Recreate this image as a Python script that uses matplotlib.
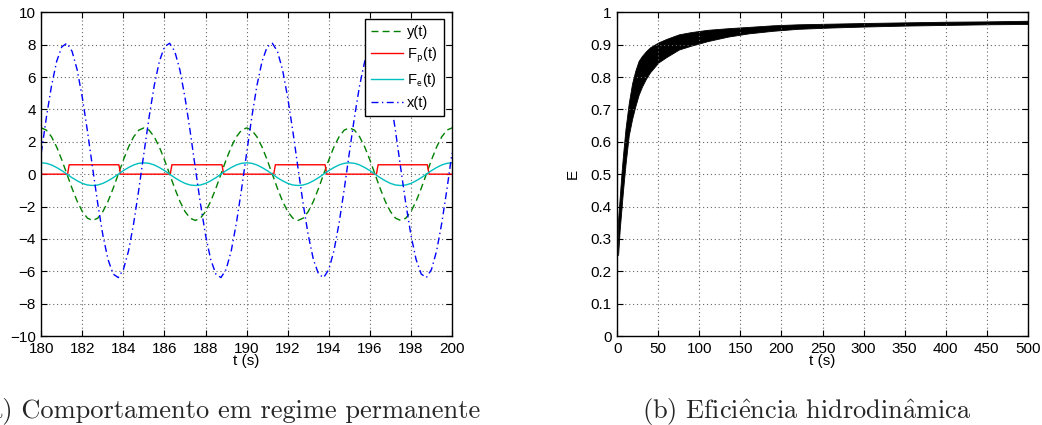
import numpy as np
import matplotlib.pyplot as plt
from matplotlib.ticker import FormatStrFormatter

plt.rcParams['font.family'] = ['Liberation Sans', 'DejaVu Sans']
plt.rcParams['mathtext.fontset'] = 'cm'

# (a) regime permanente, amostras a cada 0.25 s entre 180 e 200 s
t_ss = np.arange(180, 200.001, 0.25)

x_vals = [1.31, 3.52, 5.47, 6.97, 7.87, 8.09, 7.59, 6.44, 4.73, 2.65,
          0.39, -1.82, -3.77, -5.27, -6.17, -6.39, -5.89, -4.74, -3.03, -0.95,
          1.31, 3.52, 5.47, 6.97, 7.87, 8.09, 7.59, 6.44, 4.73, 2.65,
          0.39, -1.82, -3.77, -5.27, -6.17, -6.39, -5.89, -4.74, -3.03, -0.95,
          1.31, 3.52, 5.47, 6.97, 7.87, 8.09, 7.59, 6.44, 4.73, 2.65,
          0.39, -1.82, -3.77, -5.27, -6.17, -6.39, -5.89, -4.74, -3.03, -0.95,
          1.31, 3.52, 5.47, 6.97, 7.87, 8.09, 7.59, 6.44, 4.73, 2.65,
          0.39, -1.82, -3.77, -5.27, -6.17, -6.39, -5.89, -4.74, -3.03, -0.95,
          1.31]

y_vals = [2.86, 2.72, 2.31, 1.68, 0.88, 0.00, -0.88, -1.68, -2.31, -2.72,
          -2.86, -2.72, -2.31, -1.68, -0.88, 0.00, 0.88, 1.68, 2.31, 2.72,
          2.86, 2.72, 2.31, 1.68, 0.88, 0.00, -0.88, -1.68, -2.31, -2.72,
          -2.86, -2.72, -2.31, -1.68, -0.88, 0.00, 0.88, 1.68, 2.31, 2.72,
          2.86, 2.72, 2.31, 1.68, 0.88, 0.00, -0.88, -1.68, -2.31, -2.72,
          -2.86, -2.72, -2.31, -1.68, -0.88, 0.00, 0.88, 1.68, 2.31, 2.72,
          2.86, 2.72, 2.31, 1.68, 0.88, 0.00, -0.88, -1.68, -2.31, -2.72,
          -2.86, -2.72, -2.31, -1.68, -0.88, 0.00, 0.88, 1.68, 2.31, 2.72,
          2.86]

fe_vals = [0.70, 0.67, 0.57, 0.41, 0.22, 0.00, -0.22, -0.41, -0.57, -0.67,
           -0.70, -0.67, -0.57, -0.41, -0.22, 0.00, 0.22, 0.41, 0.57, 0.67,
           0.70, 0.67, 0.57, 0.41, 0.22, 0.00, -0.22, -0.41, -0.57, -0.67,
           -0.70, -0.67, -0.57, -0.41, -0.22, 0.00, 0.22, 0.41, 0.57, 0.67,
           0.70, 0.67, 0.57, 0.41, 0.22, 0.00, -0.22, -0.41, -0.57, -0.67,
           -0.70, -0.67, -0.57, -0.41, -0.22, 0.00, 0.22, 0.41, 0.57, 0.67,
           0.70, 0.67, 0.57, 0.41, 0.22, 0.00, -0.22, -0.41, -0.57, -0.67,
           -0.70, -0.67, -0.57, -0.41, -0.22, 0.00, 0.22, 0.41, 0.57, 0.67,
           0.70]

t_fp = [180, 181.28, 181.36, 183.78, 183.86, 186.28, 186.36, 188.80, 188.88,
        191.32, 191.40, 193.82, 193.90, 196.32, 196.40, 198.80, 198.88, 200]
fp_vals = [0, 0, 0.58, 0.58, 0, 0, 0.58, 0.58, 0, 0, 0.58, 0.58, 0, 0,
           0.58, 0.58, 0, 0]

# (b) eficiencia: envoltoria da oscilacao
t_E = [1, 3, 5, 7, 10, 14, 18, 22, 26, 30, 35, 40, 50, 60, 75, 90, 110,
       135, 160, 190, 220, 260, 300, 350, 400, 450, 500]
E_upper = [0.36, 0.43, 0.50, 0.56, 0.64, 0.72, 0.78, 0.82, 0.85, 0.865, 0.88,
           0.892, 0.907, 0.918, 0.932, 0.939, 0.946, 0.951, 0.955, 0.960,
           0.963, 0.965, 0.967, 0.969, 0.971, 0.972, 0.974]
E_lower = [0.25, 0.33, 0.39, 0.45, 0.53, 0.62, 0.67, 0.71, 0.745, 0.77, 0.795,
           0.815, 0.845, 0.862, 0.885, 0.897, 0.911, 0.925, 0.935, 0.943,
           0.949, 0.953, 0.956, 0.959, 0.961, 0.963, 0.964]


def matlab_style(ax):
    ax.tick_params(direction='in', top=True, right=True, length=4, width=0.8,
                   labelsize=11, pad=4)
    ax.grid(True, linestyle=(0, (1, 2.5)), color='0.4', linewidth=0.8)
    for s in ax.spines.values():
        s.set_linewidth(1.0)


fig = plt.figure(figsize=(10.42, 4.25), dpi=100)
ax1 = fig.add_axes([0.0396, 0.2094, 0.3942, 0.7616])
ax2 = fig.add_axes([0.5924, 0.2094, 0.3939, 0.7616])

ax1.plot(t_ss, y_vals, color=(0, 0.5, 0), lw=1.0, linestyle=(0, (5, 3)), label='y(t)')
ax1.plot(t_fp, fp_vals, color='red', lw=1.0, label=r'F$_{\mathsf{p}}$(t)')
ax1.plot(t_ss, fe_vals, color=(0, 0.75, 0.75), lw=1.0, label=r'F$_{\mathsf{e}}$(t)')
ax1.plot(t_ss, x_vals, color='blue', lw=1.0, linestyle=(0, (5, 2.5, 1, 2.5)), label='x(t)')
ax1.set_xlim(180, 200)
ax1.set_ylim(-10, 10)
ax1.set_xticks(np.arange(180, 201, 2))
ax1.set_yticks(np.arange(-10, 11, 2))
matlab_style(ax1)
ax1.set_xlabel('t (s)', fontsize=11, labelpad=-1)
leg = ax1.legend(loc='upper right', bbox_to_anchor=(0.98, 0.98), borderaxespad=0,
                 fontsize=10.5, handlelength=2.2, handletextpad=0.3, labelspacing=0.45,
                 fancybox=False, framealpha=1, edgecolor='black', borderpad=0.4)
leg.get_frame().set_linewidth(1.0)

ax2.fill_between(t_E, E_lower, E_upper, color='black', lw=0.6)
ax2.set_xlim(0, 500)
ax2.set_ylim(0, 1)
ax2.set_xticks(np.arange(0, 501, 50))
ax2.set_yticks(np.arange(0, 1.01, 0.1))
ax2.yaxis.set_major_formatter(FormatStrFormatter('%g'))
matlab_style(ax2)
ax2.set_xlabel('t (s)', fontsize=11, labelpad=-1)
ax2.set_ylabel('E', fontsize=11, labelpad=8)

cap_font = 'cmr10'
fig.text(480 / 1042, 0.0165, '(a) Comportamento em regime permanente',
         ha='right', va='baseline', fontsize=19, family=cap_font, color='0.15')
fig.text(641.7 / 1042, 0.0165, r'(b) Efici$\hat{\mathrm{e}}$ncia hidrodin$\hat{\mathrm{a}}$mica',
         ha='left', va='baseline', fontsize=19, family=cap_font, color='0.15')

fig.savefig('out.png', dpi=100)
